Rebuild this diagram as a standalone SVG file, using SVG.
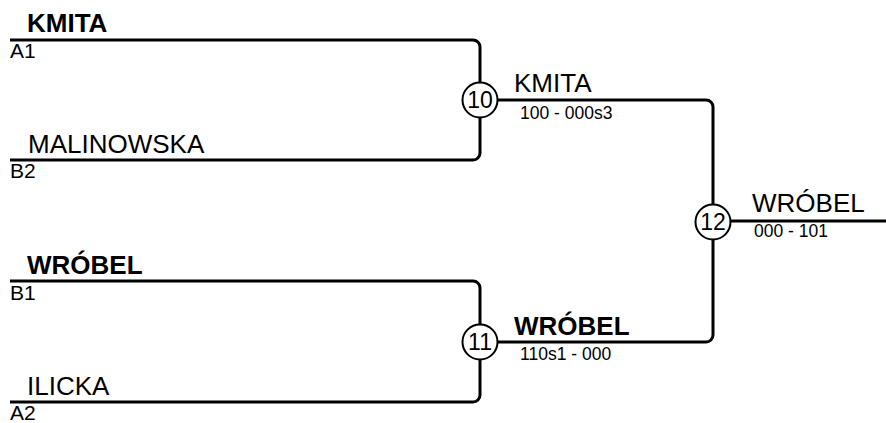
<svg xmlns="http://www.w3.org/2000/svg" width="886" height="423" viewBox="0 0 886 423">
<style>
.ln{fill:none;stroke:#000;stroke-width:3;stroke-linejoin:round}
.nm{font-family:"Liberation Sans",Arial,sans-serif;font-size:26px;fill:#000}
.b{font-weight:bold}
.sd{font-family:"Liberation Sans",Arial,sans-serif;font-size:21px;fill:#000}
.sc{font-family:"Liberation Sans",Arial,sans-serif;font-size:17.5px;fill:#000}
.cc{fill:#fff;stroke:#000;stroke-width:2}
.cn{font-family:"Liberation Sans",Arial,sans-serif;font-size:23px;fill:#000;text-anchor:middle}
</style>
<rect width="886" height="423" fill="#fff"/>
<g id="connectors">
<path class="ln" d="M10,40 H473 A7,7 0 0 1 480,47 V153 A7,7 0 0 1 473,160 H10"/>
<path class="ln" d="M10,281 H473 A7,7 0 0 1 480,288 V395 A7,7 0 0 1 473,402 H10"/>
<path class="ln" d="M480,100 H706 A7,7 0 0 1 713,107 V221"/>
<path class="ln" d="M480,342 H706 A7,7 0 0 0 713,335 V221"/>
<path class="ln" d="M713,221 H886"/>
</g>
<g id="entry-a1">
<text class="nm b" x="27" y="32">KMITA</text>
<text class="sd" x="10" y="58">A1</text>
</g>
<g id="entry-b2">
<text class="nm" x="28" y="153">MALINOWSKA</text>
<text class="sd" x="10" y="178">B2</text>
</g>
<g id="entry-b1">
<text class="nm b" x="27" y="274">WRÓBEL</text>
<text class="sd" x="10" y="300">B1</text>
</g>
<g id="entry-a2">
<text class="nm" x="27" y="395">ILICKA</text>
<text class="sd" x="10" y="420">A2</text>
</g>
<g id="match-10">
<circle class="cc" cx="480" cy="100" r="17.5"/>
<text class="cn" x="480" y="108">10</text>
<text class="nm" x="514" y="92">KMITA</text>
<text class="sc" x="520" y="119">100 - 000s3</text>
</g>
<g id="match-11">
<circle class="cc" cx="480" cy="342" r="17.5"/>
<text class="cn" x="480" y="350">11</text>
<text class="nm b" x="514" y="335">WRÓBEL</text>
<text class="sc" x="520" y="360">110s1 - 000</text>
</g>
<g id="match-12">
<circle class="cc" cx="713" cy="222" r="17.5"/>
<text class="cn" x="713" y="230">12</text>
<text class="nm" x="752" y="212">WRÓBEL</text>
<text class="sc" x="754" y="237">000 - 101</text>
</g>
</svg>
